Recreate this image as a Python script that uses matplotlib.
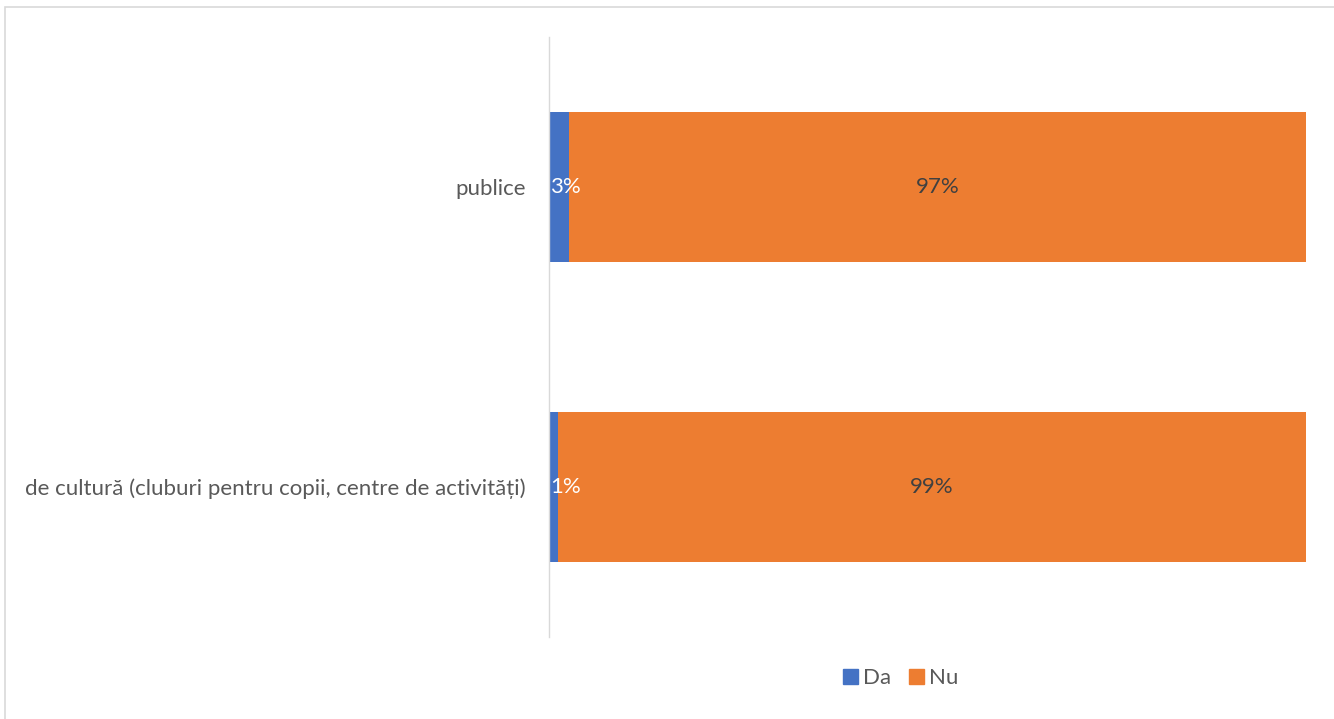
import matplotlib
matplotlib.use("Agg")
import matplotlib.pyplot as plt
from matplotlib.patches import Rectangle, Patch
from matplotlib.transforms import offset_copy

categories = ["de cultură (cluburi pentru copii, centre de activități)", "publice"]
da_values = [1.2, 2.6]
nu_values = [98.8, 97.4]
series_names = ["Da", "Nu"]

BLUE = "#4472C4"
ORANGE = "#ED7D31"
GRID = "#D9D9D9"
TXT = "#595959"
FS = 16

plt.rcParams['font.family'] = ['Lato', 'DejaVu Sans']

fig = plt.figure(figsize=(13.34, 7.19), dpi=100)
ax = fig.add_axes([549/1334, 1-637/719, (1306-549)/1334, 600/719])

y = list(range(len(categories)))
ax.barh(y, da_values, height=0.5, color=BLUE)
ax.barh(y, nu_values, left=da_values, height=0.5, color=ORANGE)

shift = offset_copy(ax.transData, fig=fig, x=1, y=0, units="dots")
for i in y:
    ax.text(0, i, f"{round(da_values[i])}%", ha="left", va="center",
            color="white", fontsize=FS, transform=shift)
    ax.text(da_values[i] + nu_values[i]/2, i, f"{round(nu_values[i])}%", ha="center",
            va="center", color="#404040", fontsize=FS)

ax.set_xlim(0, 100)
ax.set_ylim(-0.5, len(categories) - 0.5)
ax.set_yticks(y)
ax.set_yticklabels(categories, fontsize=FS, color=TXT)
ax.tick_params(axis="y", length=0, pad=17)
ax.set_xticks([])
for s in ["top", "right", "bottom"]:
    ax.spines[s].set_visible(False)
ax.spines["left"].set_color(GRID)
ax.spines["left"].set_linewidth(1)

handles = [Patch(color=BLUE), Patch(color=ORANGE)]
fig.legend(handles, series_names, loc="center", bbox_to_anchor=(901/1334, 1-678/719),
           ncol=2, frameon=False, fontsize=FS, handlelength=0.65, handleheight=0.65,
           handletextpad=0.25, columnspacing=0.8, labelcolor=TXT)

fig.patches.append(Rectangle((5/1334, -0.1), 1.2, 1 - 7/719 + 0.1, transform=fig.transFigure,
                             fill=False, edgecolor=GRID, linewidth=1.2))

fig.savefig("out.png", dpi=100)
